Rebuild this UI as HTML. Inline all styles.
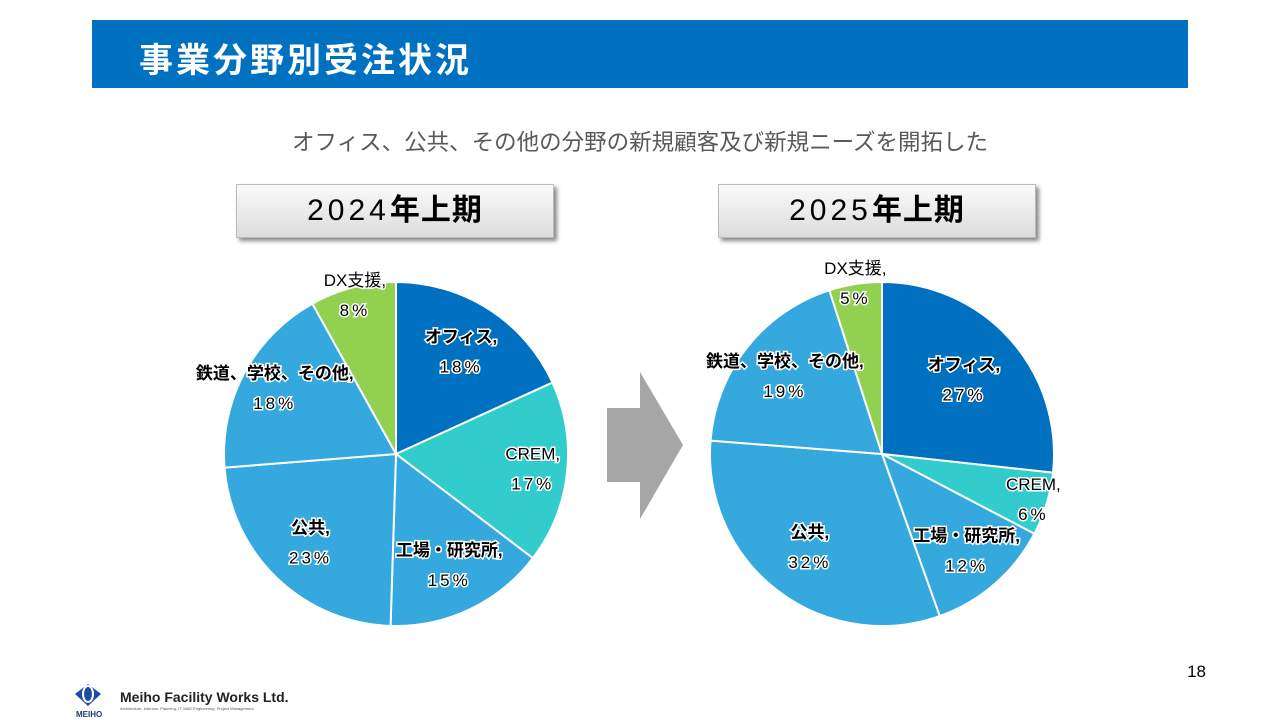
<!DOCTYPE html>
<html><head><meta charset="utf-8"><style>
body{margin:0;width:1280px;height:720px;background:#fff;position:relative;overflow:hidden;font-family:"Liberation Sans","Noto Sans CJK JP",sans-serif;}
.hdr{position:absolute;left:92px;top:20px;width:1096px;height:68px;background:#0070C0;}
.hdr span{position:absolute;left:47px;top:13px;color:#fff;font-size:34px;font-weight:bold;letter-spacing:3px;}
.sub{position:absolute;left:0;width:1280px;top:125px;text-align:center;font-size:22.5px;color:#595959;}
.box{position:absolute;top:184px;width:316px;height:52px;background:linear-gradient(#fafafa,#dcdcdc);border:1px solid #bbb;box-shadow:3px 3px 4px #888;text-align:center;font-size:30px;line-height:52px;color:#000;letter-spacing:4px;}
.box b{font-weight:bold;letter-spacing:1px}
.pg{position:absolute;right:74px;top:662px;font-size:17px;}
</style></head><body>
<div class="hdr"><span>事業分野別受注状況</span></div>
<div class="sub">オフィス、公共、その他の分野の新規顧客及び新規ニーズを開拓した</div>
<div class="box" style="left:236px">2024<b>年上期</b></div>
<div class="box" style="left:718px">2025<b>年上期</b></div>
<svg width="1280" height="720" style="position:absolute;left:0;top:0" id="chart">
<polygon points="607,408 640,408 640,372 683,445 640,519 640,482 607,482" fill="#a6a6a6"/>
</svg>
<div class="pg">18</div>
<svg style="position:absolute;left:70px;top:680px" width="220" height="40">
<path d="M5,14 L18,4 L31,14 L18,26 Z" fill="#1f4e9c"/><ellipse cx="18" cy="14" rx="5" ry="8" fill="none" stroke="#fff" stroke-width="2"/>
<text x="6" y="37" font-size="8" font-weight="bold" fill="#1f3a6e" font-family="Liberation Sans">MEIHO</text>
<text x="50" y="22" font-size="14" font-weight="bold" fill="#222" font-family="Liberation Sans">Meiho Facility Works Ltd.</text>
<text x="50" y="30" font-size="4" fill="#555" font-family="Liberation Sans">Architecture, Interiors, Planning, IT, M&amp;E Engineering, Project Management</text>
</svg>
<script>
const categories=["オフィス","CREM","工場・研究所","公共","鉄道、学校、その他","DX支援"];
const values2024=[18,17,15,23,18,8];
const values2025=[27,6,12,32,19,5];
const colors=["#0070C0","#33CCCC","#35A8DE","#35A8DE","#35A8DE","#92D050"];
const bold=[true,false,true,true,true,false];
const NS="http://www.w3.org/2000/svg";
const svg=document.getElementById('chart');
const labelLayer=document.createElementNS(NS,'g');
function pt(cx,cy,r,a){return [cx+r*Math.sin(a),cy-r*Math.cos(a)];}
function drawPie(vals,cx,cy,r,tag,lf){
  const sum=vals.reduce((a,b)=>a+b,0);let a0=0;
  vals.forEach((v,i)=>{
    const a1=a0+v/sum*2*Math.PI;
    const p0=pt(cx,cy,r,a0),p1=pt(cx,cy,r,a1);
    const p=document.createElementNS(NS,'path');
    p.setAttribute('d',`M${cx},${cy}L${p0[0]},${p0[1]}A${r},${r} 0 ${a1-a0>Math.PI?1:0} 1 ${p1[0]},${p1[1]}Z`);
    p.setAttribute('fill',colors[i]);p.setAttribute('stroke','#fff');p.setAttribute('stroke-width','2');
    
    
    svg.appendChild(p);
    const m=(a0+a1)/2;const lp=pt(cx,cy,r*lf[i],m);
    [[categories[i]+',',-10,bold[i],0],[v+'%',20,false,3]].forEach(([s,dy,b,ls])=>{
      const t=document.createElementNS(NS,'text');
      t.setAttribute('x',lp[0]);t.setAttribute('y',lp[1]+dy);
      t.setAttribute('text-anchor','middle');t.setAttribute('font-size','17');
      if(b)t.setAttribute('font-weight','bold');
      t.setAttribute('style','paint-order:stroke;stroke:#fff;stroke-width:3px;letter-spacing:'+ls+'px');
      t.setAttribute('font-family','"Liberation Sans","Noto Sans CJK JP",sans-serif');
      t.textContent=s;
      
      
      labelLayer.appendChild(t);
    });
    a0=a1;
  });
}
drawPie(values2024,396,454,172,'2024',[0.7,0.8,0.72,0.72,0.8,0.95]);
drawPie(values2025,882,454,172,'2025',[0.64,0.92,0.75,0.69,0.72,1.0]);
svg.appendChild(labelLayer);
</script>
</body></html>
